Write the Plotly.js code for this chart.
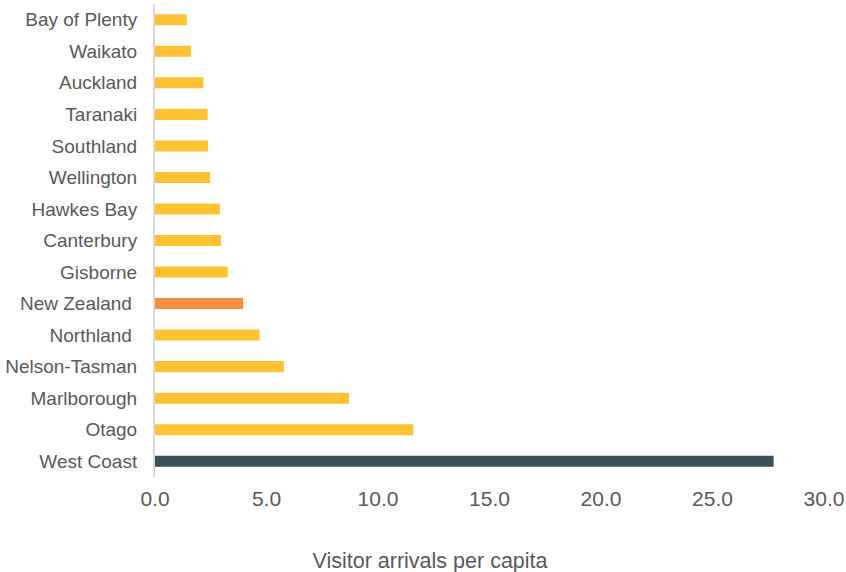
<!DOCTYPE html>
<html>
<head>
<meta charset="utf-8">
<script src="https://cdn.plot.ly/plotly-3.0.1.min.js"></script>
<style>html,body{margin:0;padding:0;background:#fff;}#chart{width:846px;height:572px;}</style>
</head>
<body>
<div id="chart"></div>
<script>
const regions = ["Bay of Plenty","Waikato","Auckland","Taranaki","Southland","Wellington","Hawkes Bay","Canterbury","Gisborne","New Zealand\u00a0","Northland\u00a0","Nelson-Tasman","Marlborough","Otago","West Coast"];
const arrivalsPerCapita = [1.43,1.61,2.17,2.36,2.38,2.47,2.91,2.96,3.26,3.95,4.69,5.78,8.70,11.58,27.74];
const barColors = regions.map(r => r.startsWith("New Zealand") ? "#F58D3F" : (r === "West Coast" ? "#3A4F5A" : "#FFC233"));
const xTickVals = [0,5,10,15,20,25,30];
const xTickText = ["0.0","5.0","10.0","15.0","20.0","25.0","30.0"];
const xTitle = "Visitor arrivals per capita";

const trace = {
  type: "bar",
  orientation: "h",
  y: regions,
  x: arrivalsPerCapita,
  marker: {color: barColors, line: {width: 0}},
  hoverinfo: "x+y"
};

const layout = {
  width: 846, height: 572,
  margin: {l: 155, r: 22, t: 4, b: 95},
  paper_bgcolor: "#fff", plot_bgcolor: "#fff",
  font: {family: "'Liberation Sans', Arial, sans-serif", color: "#595959"},
  bargap: 0.65,
  showlegend: false,
  title: {
    text: xTitle,
    font: {size: 21.5, color: "#595959"},
    xref: "container", yref: "container",
    x: 430/846, xanchor: "center",
    y: 12/572, yanchor: "middle"
  },
  xaxis: {
    range: [0, 30],
    tickvals: xTickVals, ticktext: xTickText,
    showgrid: false, zeroline: false, showline: false,
    ticks: "", ticklabelstandoff: 7,
    tickfont: {size: 21, color: "#595959"},
    automargin: false, fixedrange: true
  },
  yaxis: {
    autorange: "reversed",
    showgrid: false, zeroline: false,
    showline: true, linecolor: "#d9d9d9", linewidth: 2,
    ticks: "", ticklabelstandoff: 12,
    tickfont: {size: 19, color: "#595959"},
    automargin: false, fixedrange: true
  }
};

Plotly.newPlot("chart", [trace], layout, {displayModeBar: false, staticPlot: true});
</script>
</body>
</html>
